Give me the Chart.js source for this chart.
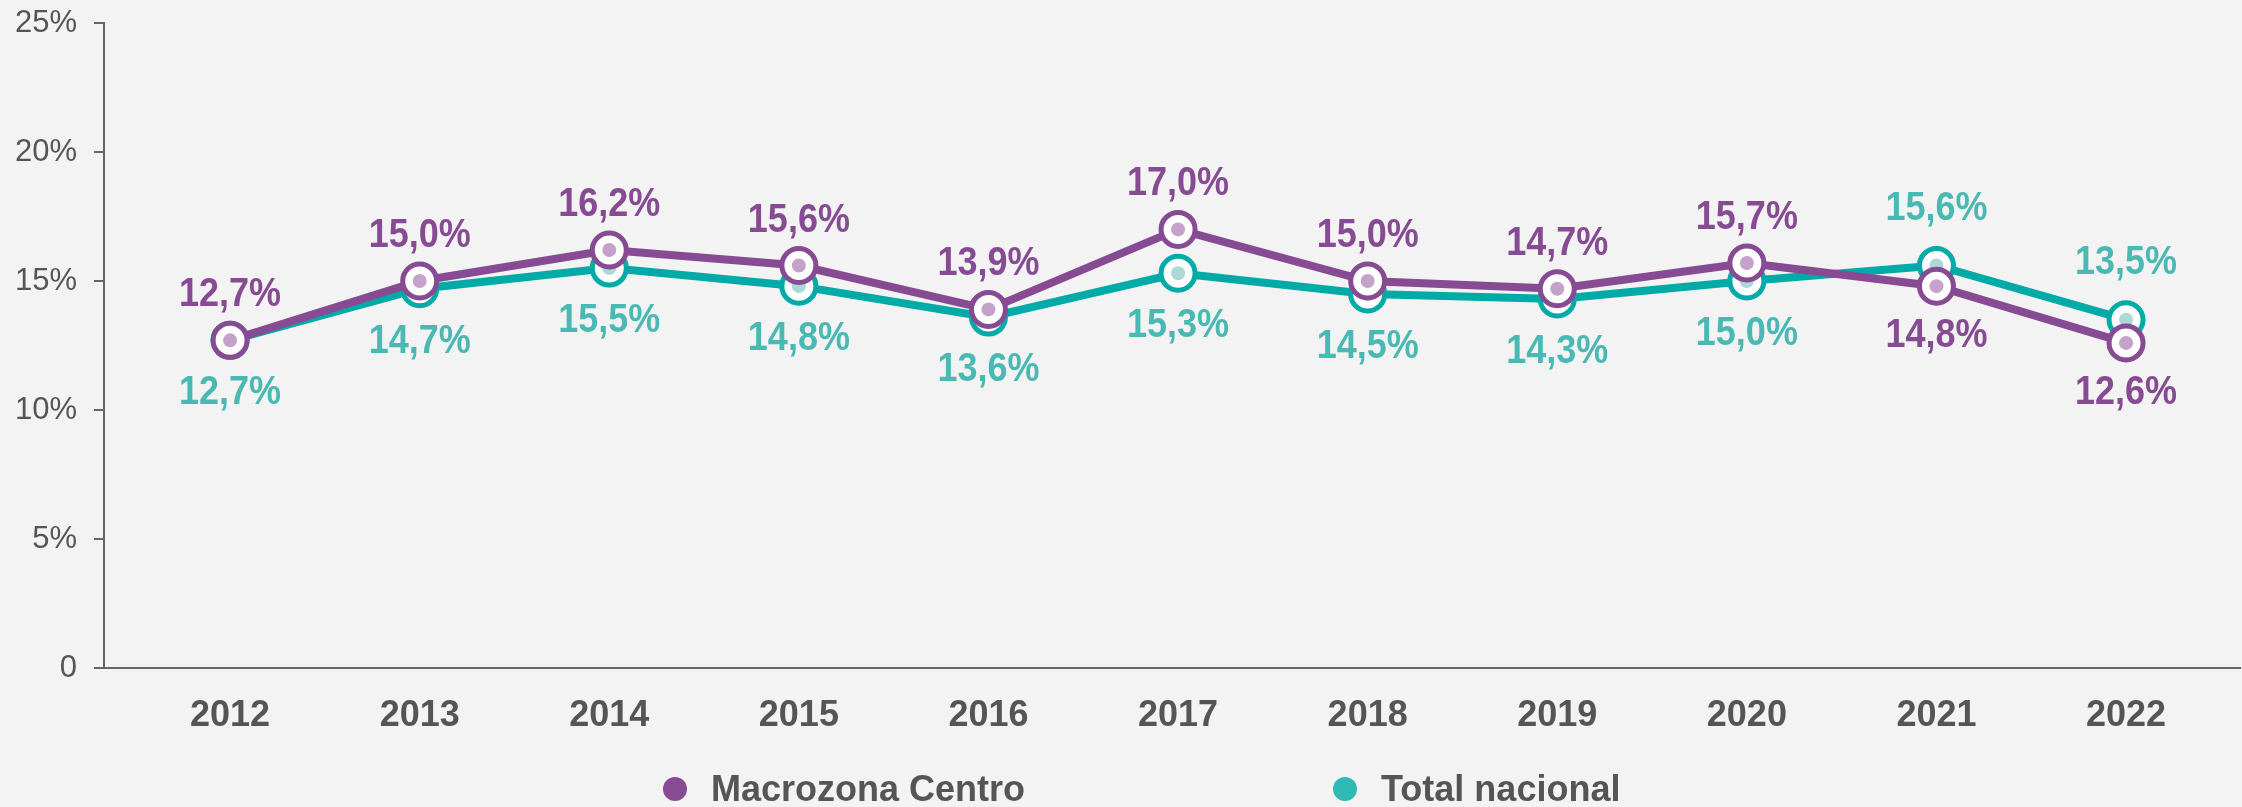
<!DOCTYPE html>
<html>
<head>
<meta charset="utf-8">
<script src="https://cdn.jsdelivr.net/npm/chart.js@4.4.1/dist/chart.umd.min.js"></script>
<style>
  html, body { margin: 0; padding: 0; background: #f3f3f3; overflow: hidden; }
  #wrap { position: relative; width: 2242px; height: 807px; }
  #chart { display: block; }
  #legend {
    position: absolute; left: 663px; top: 768px;
    display: flex; gap: 308px;
    font: bold 36px "Liberation Sans", Arial, sans-serif; color: #555;
  }
  #legend span.item { display: flex; align-items: center; }
  #legend span.dot { width: 24px; height: 24px; border-radius: 50%; margin-right: 24px; display: inline-block; }
</style>
</head>
<body>
<div id="wrap">
  <canvas id="chart" width="2242" height="807"></canvas>
  <div id="legend"></div>
</div>
<script>
var years = [2012, 2013, 2014, 2015, 2016, 2017, 2018, 2019, 2020, 2021, 2022];
var macrozonaCentro = [12.7, 15.0, 16.2, 15.6, 13.9, 17.0, 15.0, 14.7, 15.7, 14.8, 12.6];
var totalNacional = [12.7, 14.7, 15.5, 14.8, 13.6, 15.3, 14.5, 14.3, 15.0, 15.6, 13.5];
var yTicks = [0, 5, 10, 15, 20, 25];

var purple = '#864b93';
var teal = '#00aaa6';
var tealText = '#4bb9b3';

function fmt(v) {
    return v.toFixed(1).replace('.', ',') + '%';
}

function toPoints(values) {
    return years.map(function (y, i) { return { x: y, y: values[i] }; });
}

// inner dot of each marker, drawn right after its own dataset
// value labels on top of everything
var pointLabels = {
    id: 'pointLabels',
    afterDatasetDraw: function (chart, args) {
        var ctx = chart.ctx;
        var ds = chart.data.datasets[args.index];
        args.meta.data.forEach(function (pt) {
            ctx.save();
            ctx.beginPath();
            ctx.arc(pt.x, pt.y, 7, 0, Math.PI * 2);
            ctx.fillStyle = ds.dotColor;
            ctx.fill();
            ctx.restore();
        });
    },
    afterDatasetsDraw: function (chart) {
        var ctx = chart.ctx;
        var series = [macrozonaCentro, totalNacional];
        chart.data.datasets.forEach(function (ds, di) {
            var meta = chart.getDatasetMeta(di);
            var values = series[di];
            var other = series[1 - di];
            meta.data.forEach(function (pt, i) {
                var above = di === 0 ? values[i] >= other[i] : values[i] > other[i];
                var dy;
                if (di === 0) dy = above ? -45 : 50;
                else dy = above ? -57 : 53;
                ctx.save();
                ctx.translate(pt.x, pt.y + dy);
                ctx.scale(0.9, 1);
                ctx.font = 'bold 40px "Liberation Sans", Arial, sans-serif';
                ctx.fillStyle = ds.labelColor;
                ctx.textAlign = 'center';
                ctx.textBaseline = 'middle';
                ctx.fillText(fmt(values[i]), 0, 0);
                ctx.restore();
            });
        });
    }
};

var ctx = document.getElementById('chart').getContext('2d');
var chart = new Chart(ctx, {
    type: 'line',
    data: {
        datasets: [{
            label: 'Macrozona Centro',
            data: toPoints(macrozonaCentro),
            borderColor: purple,
            borderWidth: 8,
            pointRadius: 17,
            pointBorderWidth: 5,
            pointBackgroundColor: '#ffffff',
            pointBorderColor: purple,
            dotColor: '#c4a2c9',
            labelColor: purple,
            tension: 0
        }, {
            label: 'Total nacional',
            data: toPoints(totalNacional),
            borderColor: teal,
            borderWidth: 8,
            pointRadius: 17,
            pointBorderWidth: 5,
            pointBackgroundColor: '#ffffff',
            pointBorderColor: teal,
            dotColor: '#acd9d6',
            labelColor: tealText,
            tension: 0
        }]
    },
    options: {
        responsive: false,
        animation: false,
        layout: { autoPadding: false, padding: { top: 23, right: 2, left: 0, bottom: 0 } },
        plugins: {
            legend: { display: false },
            tooltip: { enabled: false }
        },
        scales: {
            x: {
                type: 'linear',
                min: 2011.335,
                max: 2022.601,
                afterBuildTicks: function (axis) {
                    axis.ticks = years.map(function (y) { return { value: y }; });
                },
                afterFit: function (axis) {
                    axis.height = 139;
                    axis.paddingLeft = 0;
                    axis.paddingRight = 0;
                },
                grid: { drawOnChartArea: false, drawTicks: false },
                border: { display: true, color: '#666', width: 2 },
                ticks: {
                    padding: 26,
                    color: '#555',
                    font: { family: '"Liberation Sans", Arial, sans-serif', size: 36, weight: 'bold' },
                    callback: function (v) { return String(v); }
                }
            },
            y: {
                min: 0,
                max: 25,
                afterBuildTicks: function (axis) {
                    axis.ticks = yTicks.map(function (v) { return { value: v }; });
                },
                afterFit: function (axis) {
                    axis.width = 104;
                    axis.paddingTop = 0;
                    axis.paddingBottom = 0;
                },
                grid: { drawOnChartArea: false, drawTicks: true, tickLength: 10, color: '#666', lineWidth: 2 },
                border: { display: true, color: '#666', width: 2 },
                ticks: {
                    padding: 17,
                    color: '#555',
                    font: { family: '"Liberation Sans", Arial, sans-serif', size: 31 },
                    callback: function (v) { return v === 0 ? '0' : v + '%'; }
                }
            }
        }
    },
    plugins: [pointLabels]
});

var legend = document.getElementById('legend');
chart.data.datasets.forEach(function (ds) {
    var item = document.createElement('span');
    item.className = 'item';
    var dot = document.createElement('span');
    dot.className = 'dot';
    dot.style.background = ds.label === 'Total nacional' ? '#2fbab6' : purple;
    item.appendChild(dot);
    item.appendChild(document.createTextNode(ds.label));
    legend.appendChild(item);
});
</script>
</body>
</html>
